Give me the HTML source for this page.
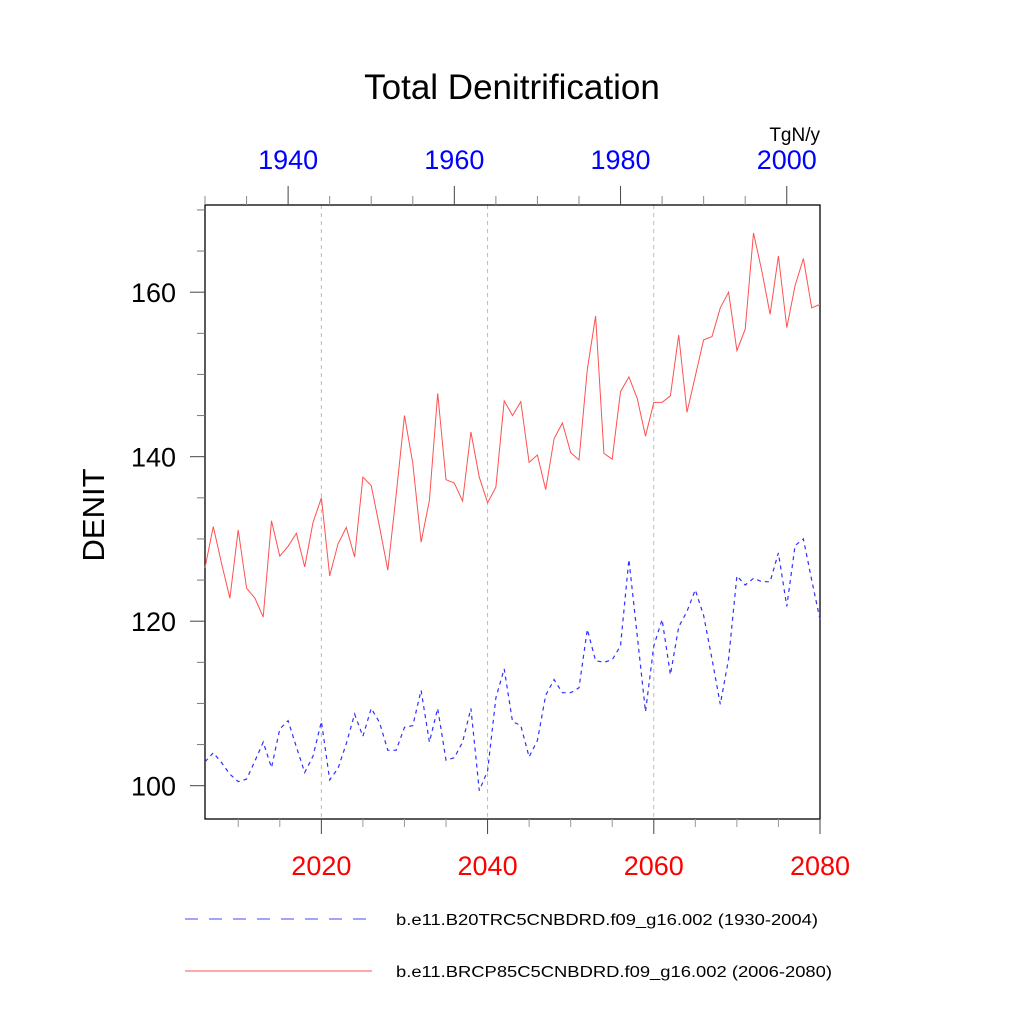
<!DOCTYPE html>
<html><head><meta charset="utf-8"><style>
body{margin:0;background:#fff}
svg{display:block;font-family:"Liberation Sans",sans-serif}
</style></head><body>
<svg id="chart" width="1024" height="1024" viewBox="0 0 1024 1024">
<rect width="1024" height="1024" fill="#fff"/>
<text x="512" y="99" font-size="35" text-anchor="middle">Total Denitrification</text>
<text x="820" y="141" font-size="19" text-anchor="end">TgN/y</text>
<text transform="translate(104,515) rotate(-90)" font-size="31" text-anchor="middle">DENIT</text>
<g id="grid"></g>
<g id="axes"></g>
<g id="series"></g>
<g id="legend">
<line x1="185" y1="919" x2="372" y2="919" stroke="#6a6aff" stroke-width="1.2" stroke-dasharray="13,11"/>
<text x="396" y="925" font-size="15.5" textLength="422" lengthAdjust="spacingAndGlyphs">b.e11.B20TRC5CNBDRD.f09_g16.002 (1930-2004)</text>
<line x1="185" y1="971" x2="372" y2="971" stroke="#ff5050" stroke-width="1"/>
<text x="396" y="977" font-size="15.5" textLength="436" lengthAdjust="spacingAndGlyphs">b.e11.BRCP85C5CNBDRD.f09_g16.002 (2006-2080)</text>
</g>
</svg>
<script>
const rcpStartYear = 2006;
const histStartYear = 1930;
const rcpValues = [126.5,131.5,127.0,122.8,131.1,124.0,122.8,120.5,132.2,127.9,129.1,130.7,126.6,132.0,135.0,125.5,129.4,131.4,127.8,137.5,136.5,131.5,126.2,135.3,145.0,139.2,129.6,134.7,147.7,137.2,136.8,134.6,143.0,137.5,134.4,136.3,146.8,145.0,146.7,139.3,140.2,136.0,142.2,144.1,140.5,139.6,150.6,157.1,140.4,139.7,147.9,149.7,147.1,142.5,146.6,146.6,147.4,154.8,145.4,149.8,154.2,154.6,158.1,160.0,152.9,155.5,167.2,162.6,157.3,164.4,155.7,160.8,164.1,158.1,158.5];
const histValues = [102.9,104.0,102.8,101.4,100.5,100.8,103.0,105.3,102.2,106.9,107.9,104.7,101.6,103.6,107.8,100.7,102.1,105.1,108.7,106.0,109.4,107.7,104.3,104.3,107.1,107.3,111.6,105.3,109.4,103.1,103.4,105.3,109.4,99.4,101.8,110.7,114.2,107.8,107.3,103.5,105.5,111.0,112.9,111.3,111.3,111.9,119.0,115.2,115.0,115.3,117.0,127.5,118.3,109.0,117.0,120.2,113.5,119.3,121.2,123.8,120.7,115.4,109.9,115.4,125.5,124.4,125.2,124.8,124.8,128.3,121.8,129.2,130.0,125.0,120.2];
const yTicks = [100,120,140,160];
const bottomTicks = [2020,2040,2060,2080];
const topTicks = [1940,1960,1980,2000];

const L=205,R=820,T=205,B=819;
const yMin=95.95,yMax=170.6;
const xb=y=>L+(y-2006)/(2080-2006)*(R-L);
const xt=y=>L+(y-1930)/(2004-1930)*(R-L);
const yv=v=>B-(v-yMin)/(yMax-yMin)*(B-T);
const NS='http://www.w3.org/2000/svg';
function mk(tag,attrs,parent){const e=document.createElementNS(NS,tag);for(const k in attrs)e.setAttribute(k,attrs[k]);parent.appendChild(e);return e;}
const grid=document.getElementById('grid'),axes=document.getElementById('axes'),series=document.getElementById('series');

bottomTicks.forEach(t=>{if(t<2080){const g=mk('line',{x1:xb(t),x2:xb(t),y1:T,y2:B,stroke:'#bbb','stroke-width':1,'stroke-dasharray':'4,4'},grid);

}});

const frame=mk('rect',{x:L,y:T,width:R-L,height:B-T,fill:'none',stroke:'#000','stroke-width':1.3},axes);



for(let v=100;v<=170;v+=5){const major=v%20===0;const y=yv(v);
const tk=mk('line',{x1:L-(major?15:8),x2:L,y1:y,y2:y,stroke:major?'#444':'#777','stroke-width':1},axes);

}
yTicks.forEach(v=>{const t=mk('text',{x:L-29,y:yv(v)+10,'font-size':27,'text-anchor':'end'},axes);t.textContent=v;

});

for(let yr=2010;yr<=2080;yr+=5){const major=yr%20===0;const x=xb(yr);
const tk=mk('line',{x1:x,x2:x,y1:B,y2:B+(major?15:8),stroke:major?'#444':'#999','stroke-width':1},axes);

}
bottomTicks.forEach(v=>{const t=mk('text',{x:xb(v),y:875,'font-size':27,'text-anchor':'middle',fill:'#ff0000'},axes);t.textContent=v;

});

for(let yr=1930;yr<=2000;yr+=5){const major=yr%20===0;const x=xt(yr);
const tk=mk('line',{x1:x,x2:x,y1:T,y2:T-(major?19:9),stroke:major?'#444':'#888','stroke-width':1},axes);

}
topTicks.forEach(v=>{const t=mk('text',{x:xt(v),y:169,'font-size':27,'text-anchor':'middle',fill:'#0000ff'},axes);t.textContent=v;

});

const histPts=histValues.map((v,i)=>xt(histStartYear+i).toFixed(1)+','+yv(v).toFixed(1)).join(' ');
const hl=mk('polyline',{points:histPts,fill:'none',stroke:'#3030ff','stroke-width':1.2,'stroke-dasharray':'4,4'},series);


const rcpPts=rcpValues.map((v,i)=>xb(rcpStartYear+i).toFixed(1)+','+yv(v).toFixed(1)).join(' ');
const rl=mk('polyline',{points:rcpPts,fill:'none',stroke:'#ff5050','stroke-width':1},series);


</script>
</body></html>
